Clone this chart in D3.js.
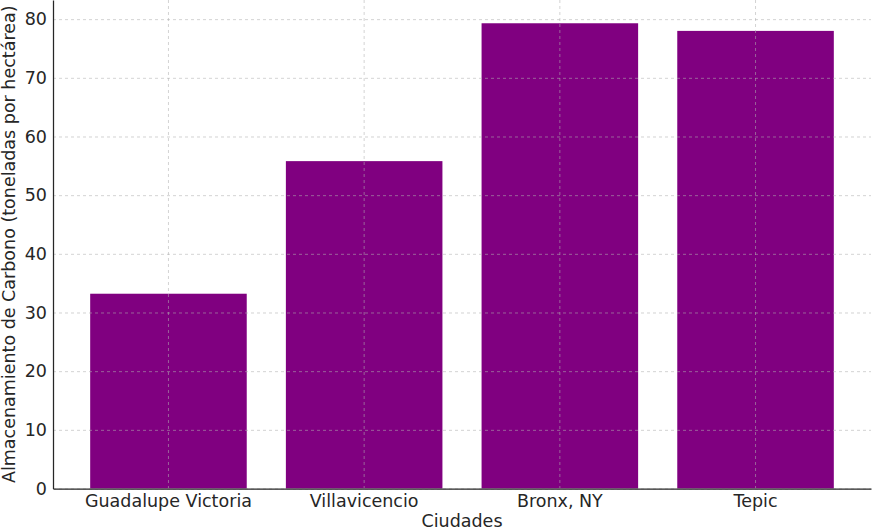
<!DOCTYPE html>
<html>
<head>
<meta charset="utf-8">
<script src="https://cdn.jsdelivr.net/npm/d3@7"></script>
<style>
  body { margin: 0; background: #fff; }
  svg text { font-family: "DejaVu Sans", sans-serif; fill: #262626; }
</style>
</head>
<body>
<svg id="chart" width="872" height="531"></svg>
<script>
const cities = ["Guadalupe Victoria", "Villavicencio", "Bronx, NY", "Tepic"];
const carbon = [33.2, 55.8, 79.3, 78.0];
const yTicks = [0, 10, 20, 30, 40, 50, 60, 70, 80];

const width = 872, height = 531;
const margin = { top: 0, right: 1, bottom: 42.5, left: 53 };
const fontSize = "17.5px";
const svg = d3.select("#chart");

const x = d3.scaleBand()
  .domain(cities)
  .range([margin.left, width - margin.right])
  .paddingInner(0.2)
  .paddingOuter(0.2 / 2 + 0.59 - 0.5);

const y = d3.scaleLinear()
  .domain([0, d3.max(carbon) * 1.05])
  .range([height - margin.bottom, margin.top]);

// bars
svg.append("g")
  .selectAll("rect")
  .data(cities)
  .join("rect")
  .attr("x", d => x(d))
  .attr("width", x.bandwidth())
  .attr("y", (d, i) => y(carbon[i]))
  .attr("height", (d, i) => y(0) - y(carbon[i]))
  .attr("fill", "#800080");

// grid over the bars
const grid = svg.append("g")
  .attr("stroke", "#b0b0b0")
  .attr("stroke-opacity", 0.7)
  .attr("stroke-width", 0.8)
  .attr("stroke-dasharray", "3,3");

grid.selectAll("line.h")
  .data(yTicks)
  .join("line")
  .attr("class", "h")
  .attr("x1", margin.left)
  .attr("x2", width - margin.right)
  .attr("y1", d => y(d) + 0.5)
  .attr("y2", d => y(d) + 0.5);

grid.selectAll("line.v")
  .data(cities)
  .join("line")
  .attr("class", "v")
  .attr("x1", d => x(d) + x.bandwidth() / 2)
  .attr("x2", d => x(d) + x.bandwidth() / 2)
  .attr("y1", margin.top)
  .attr("y2", height - margin.bottom);

// axes
const yAxis = svg.append("g")
  .attr("transform", `translate(${margin.left},0)`)
  .call(d3.axisLeft(y).tickValues(yTicks).tickSize(0).tickPadding(6));
yAxis.select(".domain").attr("stroke", "#262626").attr("stroke-width", 1.25);
yAxis.selectAll("text").style("font-size", fontSize).attr("fill", "#262626");

const xAxis = svg.append("g")
  .attr("transform", `translate(0,${height - margin.bottom})`)
  .call(d3.axisBottom(x).tickSize(0).tickPadding(6));
xAxis.select(".domain").attr("stroke", "#262626").attr("stroke-width", 1.25);
xAxis.selectAll("text").style("font-size", fontSize).attr("fill", "#262626");

// axis titles
svg.append("text")
  .attr("x", (margin.left + width - margin.right) / 2)
  .attr("y", 527)
  .attr("text-anchor", "middle")
  .style("font-size", fontSize)
  .text("Ciudades");

svg.append("text")
  .attr("transform", `translate(15,${(height - margin.bottom) / 2}) rotate(-90)`)
  .attr("text-anchor", "middle")
  .style("font-size", fontSize)
  .text("Almacenamiento de Carbono (toneladas por hectárea)");
</script>
</body>
</html>
